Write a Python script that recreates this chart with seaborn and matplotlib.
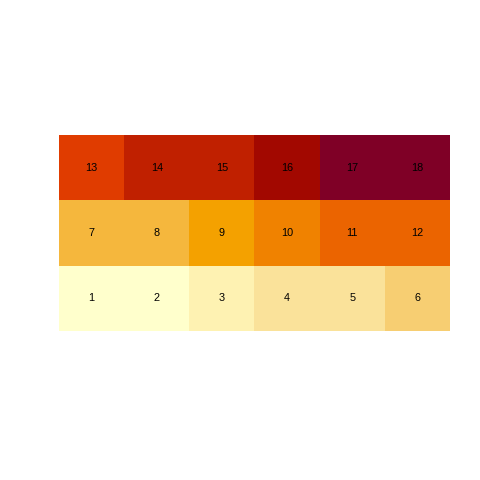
import numpy as np
import pandas as pd
import matplotlib
matplotlib.use("Agg")
import matplotlib.pyplot as plt
from matplotlib.colors import ListedColormap
import seaborn as sns

labels = list(range(1, 19))
levels = [0, 0, 1, 2, 2, 3, 4, 4, 5, 6, 7, 7, 8, 9, 9, 10, 11, 11]
palette = ["#FFFFCC", "#FEF2B2", "#FAE29A", "#F7CE72", "#F5B73D", "#F4A100",
           "#F08200", "#EB6400", "#E03C00", "#C02000", "#A20800", "#7F0026"]
n_rows, n_cols = 3, 6

lev = np.array(levels).reshape(n_rows, n_cols)[::-1]
lab = np.array(labels).reshape(n_rows, n_cols)[::-1]

fig = plt.figure(figsize=(4.8, 4.8), dpi=100)
ax = fig.add_axes([59/480, 1-331/480, 391/480, 196/480])
sns.heatmap(pd.DataFrame(lev), ax=ax, cmap=ListedColormap(palette), vmin=-0.5, vmax=len(palette)-0.5,
            annot=lab, fmt="d", cbar=False, xticklabels=False, yticklabels=False,
            annot_kws={"color": "black", "fontsize": 7.8, "family": "Liberation Sans"})
for t in ax.texts:
    t.set_color("black")
ax.set_xlabel("")
ax.set_ylabel("")
fig.savefig("out.png", dpi=100)
